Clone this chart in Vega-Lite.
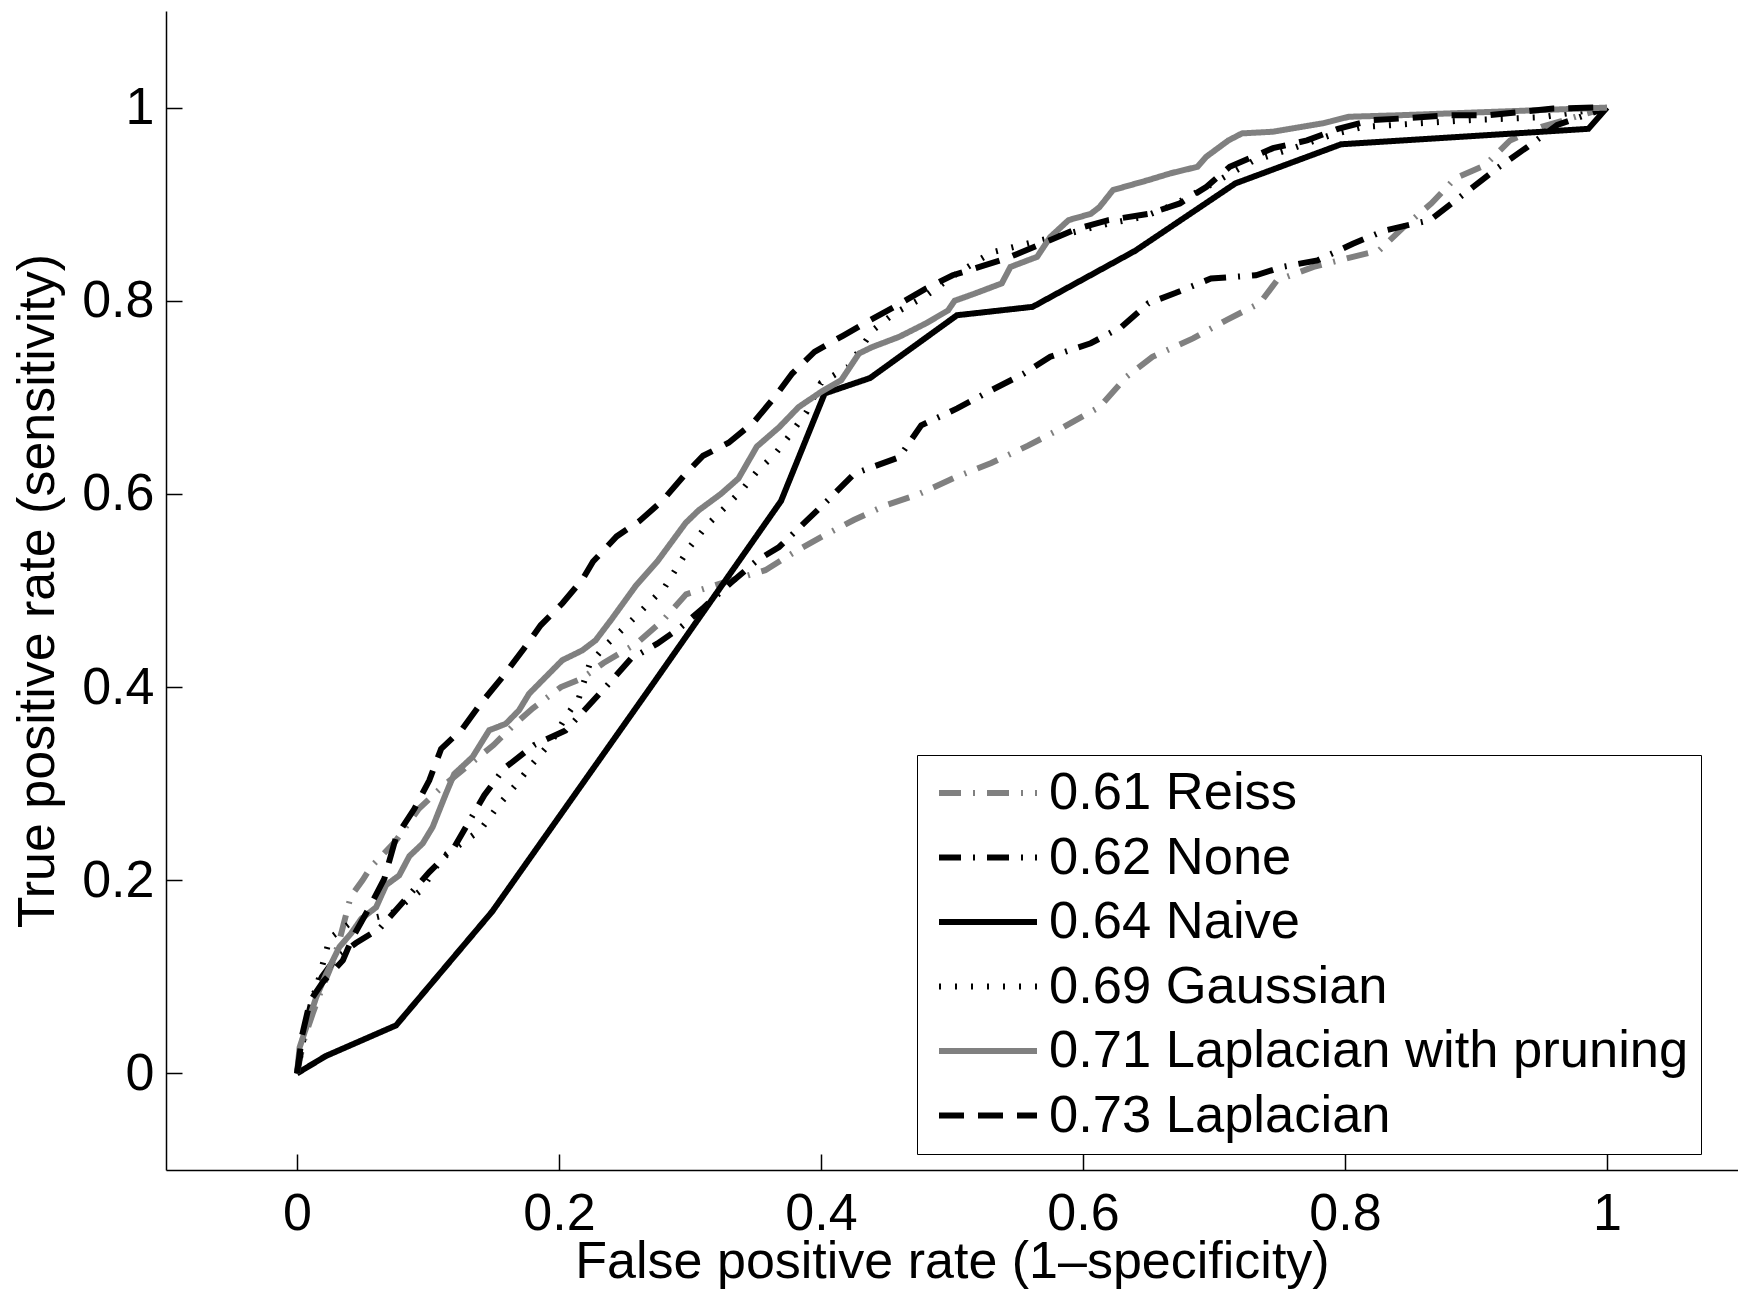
{
"$schema":"https://vega.github.io/schema/vega-lite/v6.json",
"width":1572,"height":1159,"autosize":"none",
"padding":{"left":166,"top":11,"right":0,"bottom":126},
"background":"white",
"config":{"view":{"stroke":null},
"axis":{"domainColor":"#000","domainWidth":1.5,"tickColor":"#000","tickWidth":1.5,"tickSize":-16,"grid":false,"labelFont":"Liberation Sans","labelFontSize":52,"labelColor":"#000","titleFont":"Liberation Sans","titleFontSize":52,"titleFontWeight":"normal","titleColor":"#000","labelFlush":false,"labelOverlap":false}},
"datasets":{"roc":[
{"m":"0.61 Reiss","x":0,"y":0},{"m":"0.61 Reiss","x":0.003,"y":0.02},{"m":"0.61 Reiss","x":0.006,"y":0.038},{"m":"0.61 Reiss","x":0.012,"y":0.062},{"m":"0.61 Reiss","x":0.0185,"y":0.086},{"m":"0.61 Reiss","x":0.027,"y":0.114},{"m":"0.61 Reiss","x":0.033,"y":0.141},{"m":"0.61 Reiss","x":0.041,"y":0.183},{"m":"0.61 Reiss","x":0.05,"y":0.2},{"m":"0.61 Reiss","x":0.0566,"y":0.214},{"m":"0.61 Reiss","x":0.075,"y":0.24},{"m":"0.61 Reiss","x":0.093,"y":0.274},{"m":"0.61 Reiss","x":0.111,"y":0.297},{"m":"0.61 Reiss","x":0.13,"y":0.318},{"m":"0.61 Reiss","x":0.15,"y":0.34},{"m":"0.61 Reiss","x":0.165,"y":0.36},{"m":"0.61 Reiss","x":0.18,"y":0.378},{"m":"0.61 Reiss","x":0.2015,"y":0.4},{"m":"0.61 Reiss","x":0.2175,"y":0.409},{"m":"0.61 Reiss","x":0.234,"y":0.425},{"m":"0.61 Reiss","x":0.259,"y":0.445},{"m":"0.61 Reiss","x":0.28,"y":0.47},{"m":"0.61 Reiss","x":0.297,"y":0.496},{"m":"0.61 Reiss","x":0.33,"y":0.51},{"m":"0.61 Reiss","x":0.3575,"y":0.521},{"m":"0.61 Reiss","x":0.38,"y":0.54},{"m":"0.61 Reiss","x":0.4025,"y":0.557},{"m":"0.61 Reiss","x":0.425,"y":0.573},{"m":"0.61 Reiss","x":0.449,"y":0.588},{"m":"0.61 Reiss","x":0.475,"y":0.6},{"m":"0.61 Reiss","x":0.504,"y":0.618},{"m":"0.61 Reiss","x":0.53,"y":0.632},{"m":"0.61 Reiss","x":0.558,"y":0.65},{"m":"0.61 Reiss","x":0.585,"y":0.669},{"m":"0.61 Reiss","x":0.6126,"y":0.69},{"m":"0.61 Reiss","x":0.633,"y":0.721},{"m":"0.61 Reiss","x":0.653,"y":0.742},{"m":"0.61 Reiss","x":0.684,"y":0.761},{"m":"0.61 Reiss","x":0.7095,"y":0.78},{"m":"0.61 Reiss","x":0.735,"y":0.7975},{"m":"0.61 Reiss","x":0.748,"y":0.821},{"m":"0.61 Reiss","x":0.776,"y":0.835},{"m":"0.61 Reiss","x":0.806,"y":0.8455},{"m":"0.61 Reiss","x":0.826,"y":0.852},{"m":"0.61 Reiss","x":0.845,"y":0.8766},{"m":"0.61 Reiss","x":0.866,"y":0.9008},{"m":"0.61 Reiss","x":0.884,"y":0.9267},{"m":"0.61 Reiss","x":0.907,"y":0.9404},{"m":"0.61 Reiss","x":0.926,"y":0.966},{"m":"0.61 Reiss","x":0.95,"y":0.98},{"m":"0.61 Reiss","x":0.975,"y":0.99},{"m":"0.61 Reiss","x":1,"y":1},
{"m":"0.62 None","x":0,"y":0},{"m":"0.62 None","x":0.005,"y":0.04},{"m":"0.62 None","x":0.012,"y":0.08},{"m":"0.62 None","x":0.019,"y":0.1},{"m":"0.62 None","x":0.03,"y":0.12},{"m":"0.62 None","x":0.045,"y":0.135},{"m":"0.62 None","x":0.063,"y":0.15},{"m":"0.62 None","x":0.0832,"y":0.181},{"m":"0.62 None","x":0.101,"y":0.2085},{"m":"0.62 None","x":0.12,"y":0.234},{"m":"0.62 None","x":0.134,"y":0.267},{"m":"0.62 None","x":0.143,"y":0.288},{"m":"0.62 None","x":0.158,"y":0.3156},{"m":"0.62 None","x":0.181,"y":0.34},{"m":"0.62 None","x":0.205,"y":0.355},{"m":"0.62 None","x":0.218,"y":0.374},{"m":"0.62 None","x":0.237,"y":0.402},{"m":"0.62 None","x":0.255,"y":0.4295},{"m":"0.62 None","x":0.275,"y":0.445},{"m":"0.62 None","x":0.293,"y":0.462},{"m":"0.62 None","x":0.3105,"y":0.4825},{"m":"0.62 None","x":0.331,"y":0.5077},{"m":"0.62 None","x":0.351,"y":0.531},{"m":"0.62 None","x":0.368,"y":0.545},{"m":"0.62 None","x":0.388,"y":0.571},{"m":"0.62 None","x":0.4053,"y":0.5935},{"m":"0.62 None","x":0.4255,"y":0.621},{"m":"0.62 None","x":0.4597,"y":0.638},{"m":"0.62 None","x":0.4765,"y":0.671},{"m":"0.62 None","x":0.504,"y":0.6885},{"m":"0.62 None","x":0.5275,"y":0.7056},{"m":"0.62 None","x":0.555,"y":0.7247},{"m":"0.62 None","x":0.575,"y":0.742},{"m":"0.62 None","x":0.6059,"y":0.756},{"m":"0.62 None","x":0.6295,"y":0.773},{"m":"0.62 None","x":0.65,"y":0.7975},{"m":"0.62 None","x":0.6705,"y":0.808},{"m":"0.62 None","x":0.6977,"y":0.823},{"m":"0.62 None","x":0.732,"y":0.8264},{"m":"0.62 None","x":0.752,"y":0.835},{"m":"0.62 None","x":0.779,"y":0.8418},{"m":"0.62 None","x":0.806,"y":0.859},{"m":"0.62 None","x":0.83,"y":0.8726},{"m":"0.62 None","x":0.865,"y":0.8835},{"m":"0.62 None","x":0.888,"y":0.9076},{"m":"0.62 None","x":0.916,"y":0.937},{"m":"0.62 None","x":0.939,"y":0.959},{"m":"0.62 None","x":0.962,"y":0.982},{"m":"0.62 None","x":1,"y":1},
{"m":"0.64 Naive","x":0,"y":0},{"m":"0.64 Naive","x":0.022,"y":0.018},{"m":"0.64 Naive","x":0.0756,"y":0.0497},{"m":"0.64 Naive","x":0.149,"y":0.1676},{"m":"0.64 Naive","x":0.27,"y":0.4},{"m":"0.64 Naive","x":0.3695,"y":0.5927},{"m":"0.64 Naive","x":0.4028,"y":0.704},{"m":"0.64 Naive","x":0.4375,"y":0.72},{"m":"0.64 Naive","x":0.5038,"y":0.785},{"m":"0.64 Naive","x":0.5616,"y":0.7937},{"m":"0.64 Naive","x":0.6398,"y":0.8517},{"m":"0.64 Naive","x":0.7163,"y":0.9215},{"m":"0.64 Naive","x":0.797,"y":0.962},{"m":"0.64 Naive","x":0.9858,"y":0.978},{"m":"0.64 Naive","x":1,"y":1},
{"m":"0.69 Gaussian","x":0,"y":0},{"m":"0.69 Gaussian","x":0.006,"y":0.043},{"m":"0.69 Gaussian","x":0.017,"y":0.1},{"m":"0.69 Gaussian","x":0.025,"y":0.14},{"m":"0.69 Gaussian","x":0.04,"y":0.155},{"m":"0.69 Gaussian","x":0.055,"y":0.16},{"m":"0.69 Gaussian","x":0.072,"y":0.1654},{"m":"0.69 Gaussian","x":0.095,"y":0.19},{"m":"0.69 Gaussian","x":0.111,"y":0.224},{"m":"0.69 Gaussian","x":0.14,"y":0.252},{"m":"0.69 Gaussian","x":0.154,"y":0.278},{"m":"0.69 Gaussian","x":0.166,"y":0.297},{"m":"0.69 Gaussian","x":0.18,"y":0.321},{"m":"0.69 Gaussian","x":0.195,"y":0.345},{"m":"0.69 Gaussian","x":0.205,"y":0.369},{"m":"0.69 Gaussian","x":0.215,"y":0.388},{"m":"0.69 Gaussian","x":0.2234,"y":0.424},{"m":"0.69 Gaussian","x":0.237,"y":0.445},{"m":"0.69 Gaussian","x":0.2533,"y":0.466},{"m":"0.69 Gaussian","x":0.2805,"y":0.503},{"m":"0.69 Gaussian","x":0.2887,"y":0.521},{"m":"0.69 Gaussian","x":0.2995,"y":0.5445},{"m":"0.69 Gaussian","x":0.313,"y":0.5676},{"m":"0.69 Gaussian","x":0.3267,"y":0.586},{"m":"0.69 Gaussian","x":0.34,"y":0.6045},{"m":"0.69 Gaussian","x":0.351,"y":0.623},{"m":"0.69 Gaussian","x":0.365,"y":0.6415},{"m":"0.69 Gaussian","x":0.3757,"y":0.66},{"m":"0.69 Gaussian","x":0.389,"y":0.685},{"m":"0.69 Gaussian","x":0.4,"y":0.715},{"m":"0.69 Gaussian","x":0.4206,"y":0.7316},{"m":"0.69 Gaussian","x":0.44,"y":0.77},{"m":"0.69 Gaussian","x":0.456,"y":0.787},{"m":"0.69 Gaussian","x":0.48,"y":0.805},{"m":"0.69 Gaussian","x":0.5,"y":0.825},{"m":"0.69 Gaussian","x":0.53,"y":0.85},{"m":"0.69 Gaussian","x":0.56,"y":0.86},{"m":"0.69 Gaussian","x":0.59,"y":0.87},{"m":"0.69 Gaussian","x":0.62,"y":0.88},{"m":"0.69 Gaussian","x":0.6466,"y":0.887},{"m":"0.69 Gaussian","x":0.67,"y":0.9},{"m":"0.69 Gaussian","x":0.7,"y":0.922},{"m":"0.69 Gaussian","x":0.73,"y":0.945},{"m":"0.69 Gaussian","x":0.7606,"y":0.958},{"m":"0.69 Gaussian","x":0.79,"y":0.972},{"m":"0.69 Gaussian","x":0.814,"y":0.98},{"m":"0.69 Gaussian","x":0.895,"y":0.987},{"m":"0.69 Gaussian","x":0.95,"y":0.99},{"m":"0.69 Gaussian","x":1,"y":1},
{"m":"0.71 Laplacian with pruning","x":0,"y":0},{"m":"0.71 Laplacian with pruning","x":0.002,"y":0.027},{"m":"0.71 Laplacian with pruning","x":0.0096,"y":0.058},{"m":"0.71 Laplacian with pruning","x":0.0147,"y":0.079},{"m":"0.71 Laplacian with pruning","x":0.0223,"y":0.103},{"m":"0.71 Laplacian with pruning","x":0.0324,"y":0.131},{"m":"0.71 Laplacian with pruning","x":0.0413,"y":0.145},{"m":"0.71 Laplacian with pruning","x":0.049,"y":0.16},{"m":"0.71 Laplacian with pruning","x":0.0604,"y":0.172},{"m":"0.71 Laplacian with pruning","x":0.068,"y":0.195},{"m":"0.71 Laplacian with pruning","x":0.078,"y":0.205},{"m":"0.71 Laplacian with pruning","x":0.0858,"y":0.225},{"m":"0.71 Laplacian with pruning","x":0.0959,"y":0.238},{"m":"0.71 Laplacian with pruning","x":0.1035,"y":0.255},{"m":"0.71 Laplacian with pruning","x":0.1086,"y":0.2724},{"m":"0.71 Laplacian with pruning","x":0.1137,"y":0.2897},{"m":"0.71 Laplacian with pruning","x":0.12,"y":0.31},{"m":"0.71 Laplacian with pruning","x":0.134,"y":0.3276},{"m":"0.71 Laplacian with pruning","x":0.1467,"y":0.3553},{"m":"0.71 Laplacian with pruning","x":0.1594,"y":0.362},{"m":"0.71 Laplacian with pruning","x":0.1695,"y":0.376},{"m":"0.71 Laplacian with pruning","x":0.1771,"y":0.393},{"m":"0.71 Laplacian with pruning","x":0.1873,"y":0.407},{"m":"0.71 Laplacian with pruning","x":0.2025,"y":0.4278},{"m":"0.71 Laplacian with pruning","x":0.2178,"y":0.438},{"m":"0.71 Laplacian with pruning","x":0.228,"y":0.4485},{"m":"0.71 Laplacian with pruning","x":0.24,"y":0.47},{"m":"0.71 Laplacian with pruning","x":0.2587,"y":0.505},{"m":"0.71 Laplacian with pruning","x":0.275,"y":0.53},{"m":"0.71 Laplacian with pruning","x":0.2967,"y":0.57},{"m":"0.71 Laplacian with pruning","x":0.3066,"y":0.583},{"m":"0.71 Laplacian with pruning","x":0.3236,"y":0.6},{"m":"0.71 Laplacian with pruning","x":0.337,"y":0.616},{"m":"0.71 Laplacian with pruning","x":0.351,"y":0.649},{"m":"0.71 Laplacian with pruning","x":0.368,"y":0.669},{"m":"0.71 Laplacian with pruning","x":0.383,"y":0.69},{"m":"0.71 Laplacian with pruning","x":0.4,"y":0.7056},{"m":"0.71 Laplacian with pruning","x":0.4155,"y":0.7178},{"m":"0.71 Laplacian with pruning","x":0.429,"y":0.7454},{"m":"0.71 Laplacian with pruning","x":0.439,"y":0.752},{"m":"0.71 Laplacian with pruning","x":0.4596,"y":0.7626},{"m":"0.71 Laplacian with pruning","x":0.48,"y":0.7765},{"m":"0.71 Laplacian with pruning","x":0.497,"y":0.79},{"m":"0.71 Laplacian with pruning","x":0.502,"y":0.8},{"m":"0.71 Laplacian with pruning","x":0.5175,"y":0.8075},{"m":"0.71 Laplacian with pruning","x":0.538,"y":0.818},{"m":"0.71 Laplacian with pruning","x":0.5446,"y":0.835},{"m":"0.71 Laplacian with pruning","x":0.565,"y":0.8455},{"m":"0.71 Laplacian with pruning","x":0.575,"y":0.866},{"m":"0.71 Laplacian with pruning","x":0.589,"y":0.8835},{"m":"0.71 Laplacian with pruning","x":0.606,"y":0.89},{"m":"0.71 Laplacian with pruning","x":0.6126,"y":0.897},{"m":"0.71 Laplacian with pruning","x":0.6229,"y":0.9146},{"m":"0.71 Laplacian with pruning","x":0.65,"y":0.925},{"m":"0.71 Laplacian with pruning","x":0.667,"y":0.932},{"m":"0.71 Laplacian with pruning","x":0.6874,"y":0.9387},{"m":"0.71 Laplacian with pruning","x":0.694,"y":0.949},{"m":"0.71 Laplacian with pruning","x":0.711,"y":0.966},{"m":"0.71 Laplacian with pruning","x":0.7214,"y":0.9733},{"m":"0.71 Laplacian with pruning","x":0.745,"y":0.975},{"m":"0.71 Laplacian with pruning","x":0.7826,"y":0.9836},{"m":"0.71 Laplacian with pruning","x":0.803,"y":0.9905},{"m":"0.71 Laplacian with pruning","x":0.84,"y":0.992},{"m":"0.71 Laplacian with pruning","x":0.949,"y":0.9974},{"m":"0.71 Laplacian with pruning","x":1,"y":1},
{"m":"0.73 Laplacian","x":0,"y":0},{"m":"0.73 Laplacian","x":0.004,"y":0.04},{"m":"0.73 Laplacian","x":0.01,"y":0.075},{"m":"0.73 Laplacian","x":0.02,"y":0.095},{"m":"0.73 Laplacian","x":0.035,"y":0.117},{"m":"0.73 Laplacian","x":0.0426,"y":0.141},{"m":"0.73 Laplacian","x":0.0553,"y":0.172},{"m":"0.73 Laplacian","x":0.0667,"y":0.2017},{"m":"0.73 Laplacian","x":0.0756,"y":0.2447},{"m":"0.73 Laplacian","x":0.0896,"y":0.274},{"m":"0.73 Laplacian","x":0.101,"y":0.3035},{"m":"0.73 Laplacian","x":0.11,"y":0.336},{"m":"0.73 Laplacian","x":0.1264,"y":0.357},{"m":"0.73 Laplacian","x":0.1403,"y":0.383},{"m":"0.73 Laplacian","x":0.157,"y":0.4105},{"m":"0.73 Laplacian","x":0.1733,"y":0.44},{"m":"0.73 Laplacian","x":0.186,"y":0.464},{"m":"0.73 Laplacian","x":0.2025,"y":0.4865},{"m":"0.73 Laplacian","x":0.218,"y":0.5117},{"m":"0.73 Laplacian","x":0.226,"y":0.53},{"m":"0.73 Laplacian","x":0.244,"y":0.556},{"m":"0.73 Laplacian","x":0.2615,"y":0.572},{"m":"0.73 Laplacian","x":0.279,"y":0.593},{"m":"0.73 Laplacian","x":0.2967,"y":0.621},{"m":"0.73 Laplacian","x":0.31,"y":0.6395},{"m":"0.73 Laplacian","x":0.3295,"y":0.653},{"m":"0.73 Laplacian","x":0.3485,"y":0.674},{"m":"0.73 Laplacian","x":0.3645,"y":0.7},{"m":"0.73 Laplacian","x":0.378,"y":0.7247},{"m":"0.73 Laplacian","x":0.395,"y":0.747},{"m":"0.73 Laplacian","x":0.417,"y":0.764},{"m":"0.73 Laplacian","x":0.4375,"y":0.78},{"m":"0.73 Laplacian","x":0.456,"y":0.7937},{"m":"0.73 Laplacian","x":0.48,"y":0.8126},{"m":"0.73 Laplacian","x":0.5005,"y":0.8264},{"m":"0.73 Laplacian","x":0.521,"y":0.835},{"m":"0.73 Laplacian","x":0.541,"y":0.8435},{"m":"0.73 Laplacian","x":0.5685,"y":0.859},{"m":"0.73 Laplacian","x":0.5957,"y":0.8746},{"m":"0.73 Laplacian","x":0.6194,"y":0.8835},{"m":"0.73 Laplacian","x":0.65,"y":0.89},{"m":"0.73 Laplacian","x":0.674,"y":0.9008},{"m":"0.73 Laplacian","x":0.6943,"y":0.918},{"m":"0.73 Laplacian","x":0.712,"y":0.9387},{"m":"0.73 Laplacian","x":0.733,"y":0.951},{"m":"0.73 Laplacian","x":0.745,"y":0.958},{"m":"0.73 Laplacian","x":0.771,"y":0.966},{"m":"0.73 Laplacian","x":0.7946,"y":0.978},{"m":"0.73 Laplacian","x":0.8207,"y":0.987},{"m":"0.73 Laplacian","x":0.8466,"y":0.989},{"m":"0.73 Laplacian","x":0.878,"y":0.992},{"m":"0.73 Laplacian","x":0.9096,"y":0.992},{"m":"0.73 Laplacian","x":0.959,"y":0.999},{"m":"0.73 Laplacian","x":0.99,"y":1},{"m":"0.73 Laplacian","x":1,"y":1}
]},
"data":{"name":"roc"},
"mark":{"type":"line","strokeWidth":6,"strokeCap":"butt","strokeJoin":"miter"},
"encoding":{
"x":{"field":"x","type":"quantitative","scale":{"domain":[-0.1,1.1],"nice":false,"zero":false},"axis":{"values":[0,0.2,0.4,0.6,0.8,1],"format":"~g","title":"False positive rate (1–specificity)","labelPadding":34,"titlePadding":-3}},
"y":{"field":"y","type":"quantitative","scale":{"domain":[-0.1,1.1],"nice":false,"zero":false},"axis":{"values":[0,0.2,0.4,0.6,0.8,1],"format":"~g","title":"True positive rate (sensitivity)","labelPadding":28,"titlePadding":17}},
"color":{"field":"m","type":"nominal","scale":{"domain":["0.61 Reiss","0.62 None","0.64 Naive","0.69 Gaussian","0.71 Laplacian with pruning","0.73 Laplacian"],"range":["#808080","#000000","#000000","#000000","#808080","#000000"]},
 "legend":{"title":null,"orient":"none","legendX":751,"legendY":744,"strokeColor":"#000","fillColor":"#fff","padding":12,"symbolOffset":7,"clipHeight":52,"symbolType":"stroke","symbolSize":9604,"symbolStrokeWidth":6,"labelFont":"Liberation Sans","labelFontSize":52.5,"labelColor":"#000","rowPadding":11.5,"labelOffset":9,"labelLimit":0}},
"strokeDash":{"field":"m","type":"nominal","scale":{"domain":["0.61 Reiss","0.62 None","0.64 Naive","0.69 Gaussian","0.71 Laplacian with pruning","0.73 Laplacian"],"range":[[22,12,2,12],[22,12,2,12],[1,0],[2,14],[1,0],[25,14]]},
 "legend":{"title":null,"orient":"none","legendX":751,"legendY":744,"strokeColor":"#000","fillColor":"#fff","padding":12,"symbolOffset":7,"clipHeight":52,"symbolType":"stroke","symbolSize":9604,"symbolStrokeWidth":6,"labelFont":"Liberation Sans","labelFontSize":52.5,"labelColor":"#000","rowPadding":11.5,"labelOffset":9,"labelLimit":0}}
}
}
